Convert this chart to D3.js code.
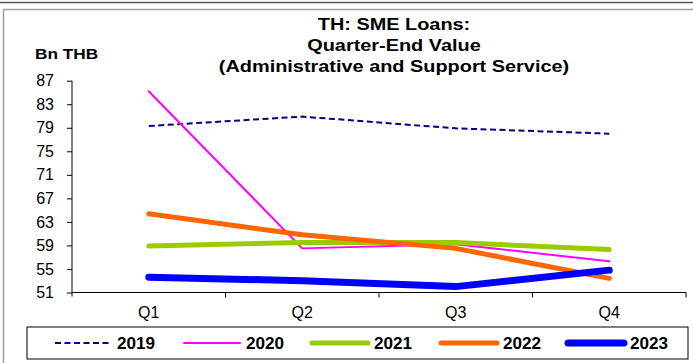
<!DOCTYPE html>
<html>
<head>
<meta charset="utf-8">
<script src="https://cdn.jsdelivr.net/npm/d3@7"></script>
<style>
  html, body { margin: 0; padding: 0; background: #fff; }
  svg { display: block; font-family: "Liberation Sans", Arial, sans-serif; }
</style>
</head>
<body>
<svg id="chart" width="693" height="363"></svg>
<script>
const categories = ["Q1", "Q2", "Q3", "Q4"];
const years = ["2019", "2020", "2021", "2022", "2023"];
const v2019 = [79.3, 80.9, 78.9, 78.0];
const v2020 = [85.2, 58.5, 59.2, 56.3];
const v2021 = [58.9, 59.5, 59.5, 58.3];
const v2022 = [64.4, 60.8, 58.5, 53.4];
const v2023 = [53.6, 53.0, 52.0, 54.8];
const yTicks = [51, 55, 59, 63, 67, 71, 75, 79, 83, 87];
const titleLines = ["TH: SME Loans:", "Quarter-End Value", "(Administrative and Support Service)"];
const yLabel = "Bn THB";

const seriesStyle = {
  "2019": { color: "#000080", width: 2, dash: "6,3.5" },
  "2020": { color: "#FF00FF", width: 2, dash: null },
  "2021": { color: "#99CC00", width: 5, dash: null },
  "2022": { color: "#FF6600", width: 5, dash: null },
  "2023": { color: "#0000FF", width: 7, dash: null }
};
const series = [v2019, v2020, v2021, v2022, v2023].map((vals, i) => ({ year: years[i], values: vals }));

const svg = d3.select("#chart");
const FONT = "Liberation Sans, Arial, sans-serif";

// frame pieces
svg.append("line").attr("x1", 0).attr("x2", 693).attr("y1", 2.5).attr("y2", 2.5)
  .attr("stroke", "#555").attr("stroke-width", 1.5);
svg.append("path").attr("d", "M3.5,363 V9.5 H693").attr("fill", "none")
  .attr("stroke", "#a0a0a0").attr("stroke-width", 1.5);

const pLeft = 72, pRight = 686, pTop = 80.7, pBottom = 292.5;
const x = d3.scaleBand().domain(categories).range([pLeft, pRight]).paddingInner(0).paddingOuter(0);
const y = d3.scaleLinear().domain([51, 87]).range([pBottom, pTop]);

// title (horizontally stretched to match reference)
const title = svg.append("text").attr("transform", "translate(394,0) scale(1.17,1)")
  .attr("text-anchor", "middle")
  .attr("font-weight", "bold").attr("font-size", 17).attr("fill", "#000");
titleLines.forEach((t, i) => {
  title.append("tspan").attr("x", 0).attr("y", 30 + i * 21).text(t);
});

svg.append("text").attr("transform", "translate(35,59) scale(1.15,1)").attr("font-weight", "bold")
  .attr("font-size", 15).attr("fill", "#000").text(yLabel);

// y axis
const yAxis = d3.axisLeft(y).tickValues(yTicks).tickSize(5).tickPadding(13).tickFormat(d3.format("d"));
const gy = svg.append("g").attr("transform", `translate(${pLeft},0)`).call(yAxis);
gy.select(".domain").attr("stroke", "#000").attr("d", `M0,${pTop}V${pBottom + 4}`);
gy.selectAll(".tick line").attr("stroke", "#000");
gy.selectAll(".tick text").attr("font-size", 16).attr("fill", "#000").attr("font-family", FONT);

// x axis
const xAxis = d3.axisBottom(x).tickSize(0).tickPadding(14);
const gx = svg.append("g").attr("transform", `translate(0,${pBottom})`).call(xAxis);
gx.select(".domain").attr("stroke", "#000").attr("d", `M${pLeft},0H${pRight}`);
gx.selectAll(".tick text").attr("font-size", 16).attr("fill", "#000").attr("font-family", FONT);
// boundary ticks
const bounds = categories.map(c => x(c)).concat([x(categories[categories.length - 1]) + x.bandwidth()]);
gx.selectAll(".bnd").data(bounds.slice(1)).enter().append("line")
  .attr("x1", d => d).attr("x2", d => d).attr("y1", 0).attr("y2", 5)
  .attr("stroke", "#000");

// lines
const line = d3.line().x((d, i) => x(categories[i]) + x.bandwidth() / 2).y(d => y(d));
svg.append("g").selectAll("path").data(series).enter().append("path")
  .attr("d", d => line(d.values))
  .attr("fill", "none")
  .attr("stroke", d => seriesStyle[d.year].color)
  .attr("stroke-width", d => seriesStyle[d.year].width)
  .attr("stroke-dasharray", d => seriesStyle[d.year].dash)
  .attr("stroke-linecap", d => seriesStyle[d.year].dash ? "butt" : "round")
  .attr("stroke-linejoin", "round");

// legend
svg.append("rect").attr("x", 27).attr("y", 327).attr("width", 661).attr("height", 32)
  .attr("fill", "#fff").attr("stroke", "#000").attr("stroke-width", 1);
const legX = [55, 184, 312, 441, 568];
const lg = svg.append("g").selectAll("g").data(series).enter().append("g")
  .attr("transform", (d, i) => `translate(${legX[i]},343)`);
lg.append("line").attr("x1", 0).attr("x2", 56).attr("y1", 0).attr("y2", 0)
  .attr("stroke", d => seriesStyle[d.year].color)
  .attr("stroke-width", d => seriesStyle[d.year].width)
  .attr("stroke-dasharray", d => seriesStyle[d.year].dash)
  .attr("stroke-linecap", d => seriesStyle[d.year].dash ? "butt" : "round");
lg.append("text").attr("transform", "translate(62,6) scale(1.07,1)").attr("font-weight", "bold")
  .attr("font-size", 16).attr("fill", "#000").text(d => d.year);
</script>
</body>
</html>
